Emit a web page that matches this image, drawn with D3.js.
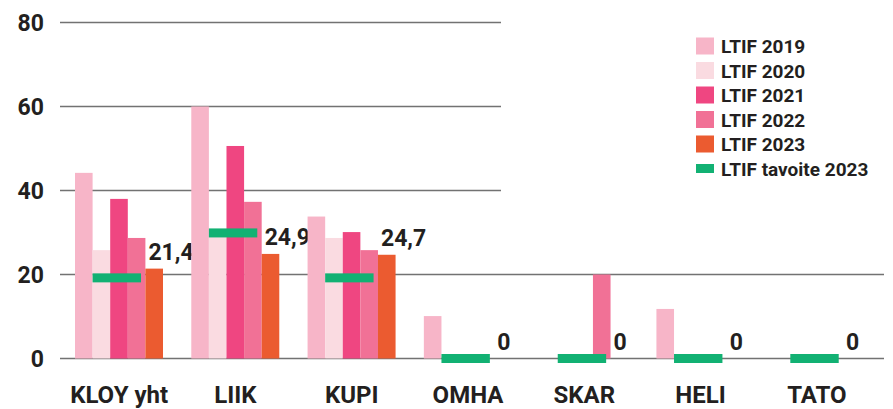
<!DOCTYPE html>
<html>
<head>
<meta charset="utf-8">
<script src="https://cdn.jsdelivr.net/npm/d3@7"></script>
<style>
  body { margin: 0; background: #fff; }
  text { font-family: Roboto, "DejaVu Sans Condensed", sans-serif; font-weight: bold; fill: #231f20; }
</style>
</head>
<body>
<svg id="chart"></svg>
<script>
var categories = ['KLOY yht', 'LIIK', 'KUPI', 'OMHA', 'SKAR', 'HELI', 'TATO'];
var years = ['LTIF 2019', 'LTIF 2020', 'LTIF 2021', 'LTIF 2022', 'LTIF 2023'];
var ltif2019 = [44.2, 60, 33.8, 10.1, 0, 11.8, 0];
var ltif2020 = [25.8, 29, 28.7, 0, 0, 0, 0];
var ltif2021 = [38, 50.6, 30.1, 0, 0, 0, 0];
var ltif2022 = [28.7, 37.3, 25.8, 0, 20, 0, 0];
var ltif2023 = [21.4, 24.9, 24.7, 0, 0, 0, 0];
var target2023 = [19.2, 29.9, 19.2, 0, 0, 0, 0];
var valueLabels = ['21,4', '24,9', '24,7', '0', '0', '0', '0'];
var yTicks = [0, 20, 40, 60, 80];
var targetName = 'LTIF tavoite 2023';

var colors = ['#f7b5c8', '#fadbe1', '#ef4681', '#f17196', '#eb5b30'];
var green = '#12b173';

var width = 893, height = 409;
var series = [ltif2019, ltif2020, ltif2021, ltif2022, ltif2023];

var svg = d3.select('#chart')
  .attr('width', width)
  .attr('height', height);

var xScale = d3.scaleBand()
  .domain(categories)
  .range([61, 875]);
var subScale = d3.scaleBand()
  .domain(years)
  .range([14, 102]);
var yScale = d3.scaleLinear()
  .domain([0, 80])
  .range([358.5, 22.5]);

// gridlines, the top ones stop before the legend
svg.append('g')
  .selectAll('line')
  .data(yTicks)
  .enter()
  .append('line')
    .attr('x1', 60)
    .attr('x2', d => d >= 40 ? 501 : 884)
    .attr('y1', d => yScale(d))
    .attr('y2', d => yScale(d))
    .attr('stroke', '#727272')
    .attr('stroke-width', 1.6);

var yAxis = d3.axisLeft(yScale)
  .tickValues(yTicks)
  .tickSize(0)
  .tickPadding(0);
var yAxisG = svg.append('g')
  .attr('transform', 'translate(44,1)')
  .call(yAxis);
yAxisG.select('.domain').remove();
yAxisG.selectAll('text')
  .attr('font-size', 23)
  .attr('fill', '#231f20');

// bars
var groups = svg.append('g')
  .selectAll('g')
  .data(categories)
  .enter()
  .append('g')
    .attr('transform', d => 'translate(' + xScale(d) + ',0)');

groups.selectAll('rect')
  .data((c, i) => series.map((s, k) => ({year: years[k], value: s[i], k: k})))
  .enter()
  .append('rect')
    .attr('x', d => subScale(d.year))
    .attr('width', subScale.bandwidth())
    .attr('y', d => yScale(d.value))
    .attr('height', d => yScale(0) - yScale(d.value))
    .attr('fill', d => colors[d.k]);

// targets
groups.append('rect')
  .attr('x', subScale(years[1]))
  .attr('width', subScale.bandwidth() * 2.75)
  .attr('y', (c, i) => yScale(target2023[i]) - 4.5)
  .attr('height', 9)
  .attr('fill', green);

// value labels of 2023
groups.append('text')
  .attr('x', subScale(years[4]) + 3)
  .attr('y', (c, i) => yScale(ltif2023[i]) - 9)
  .attr('font-size', 23)
  .text((c, i) => valueLabels[i]);

// category labels
svg.append('g')
  .selectAll('text')
  .data(categories)
  .enter()
  .append('text')
    .attr('x', d => xScale(d) + xScale.bandwidth() / 2)
    .attr('y', 403)
    .attr('text-anchor', 'middle')
    .attr('font-size', 24)
    .text(d => d);

// legend
var legendNames = years.concat([targetName]);
var legend = svg.append('g')
  .attr('transform', 'translate(696,46)');
var rows = legend.selectAll('g')
  .data(legendNames)
  .enter()
  .append('g')
    .attr('transform', (d, i) => 'translate(0,' + (i * 24.5) + ')');
rows.append('rect')
  .attr('x', 0)
  .attr('y', (d, i) => i < 5 ? -8.5 : -4.5)
  .attr('width', 18)
  .attr('height', (d, i) => i < 5 ? 17 : 9)
  .attr('fill', (d, i) => i < 5 ? colors[i] : green);
rows.append('text')
  .attr('x', 25)
  .attr('y', 7)
  .attr('font-size', 19)
  .text(d => d);
</script>
</body>
</html>
